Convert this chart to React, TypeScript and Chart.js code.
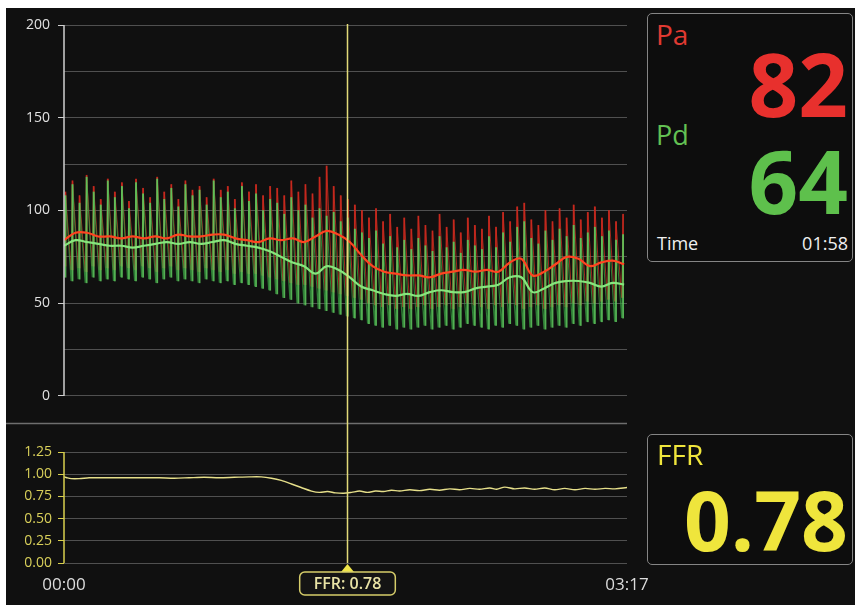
import React, { useEffect, useLayoutEffect, useRef } from 'react';
import { Chart, registerables } from 'chart.js';

Chart.register(...registerables);

// ---------- data ----------
const TIME_END = 197; // seconds (03:17)
const xTickValues = [0, 197];
const xTickLabels = ['00:00', '03:17'];

const pressureTicks = [0, 25, 50, 75, 100, 125, 150, 175, 200];
const pressureLabelTicks = [0, 50, 100, 150, 200];
const ffrTicks = [0, 0.25, 0.5, 0.75, 1.0, 1.25];

// beat-by-beat waveform extremes (one entry per displayed beat)
const beatPeriod = 2.47;
const pdSys = [
  108, 114, 104, 118, 110, 103, 116, 107, 113, 101,
  115, 109, 104, 117, 106, 112, 102, 114, 108, 111,
  103, 116, 107, 110, 101, 113, 105, 109, 100, 106,
  104, 98, 107, 100, 103, 96, 101, 97, 99, 94,
  96, 90, 88, 85, 89, 82, 86, 80, 84, 79,
  85, 81, 78, 86, 80, 83, 77, 84, 81, 79,
  86, 80, 88, 83, 91, 94, 85, 82, 89, 84,
  90, 86, 92, 85, 88, 91, 86, 89, 84, 87,
];
const pdDia = [
  64, 62, 63, 61, 64, 62, 63, 62, 64, 63,
  62, 64, 63, 61, 63, 64, 62, 63, 62, 61,
  63, 62, 61, 62, 60, 61, 60, 59, 58, 57,
  55, 53, 52, 50, 49, 48, 47, 46, 45, 44,
  43, 42, 41, 39, 38, 37, 38, 36, 37, 36,
  37, 38, 36, 37, 38, 36, 37, 39, 38, 37,
  36, 38, 37, 39, 38, 36, 37, 38, 36, 37,
  38, 37, 39, 38, 40, 39, 40, 41, 40, 42,
];
const paSys = [
  110, 116, 108, 119, 113, 106, 117, 110, 115, 105,
  117, 112, 107, 118, 110, 114, 106, 116, 111, 113,
  107, 117, 111, 113, 106, 115, 110, 114, 108, 113,
  112, 108, 116, 110, 114, 109, 118, 124, 113, 108,
  106, 103, 100, 96, 101, 94, 98, 91, 96, 90,
  97, 92, 89, 98, 91, 95, 88, 96, 92, 90,
  97, 91, 99, 94, 102, 104, 95, 92, 100, 94,
  101, 96, 103, 95, 99, 102, 96, 100, 94, 98,
];
const paDia = [
  70, 68, 69, 67, 70, 68, 69, 68, 70, 69,
  68, 70, 69, 67, 69, 70, 68, 69, 68, 67,
  69, 68, 67, 68, 66, 67, 66, 66, 65, 64,
  63, 62, 61, 60, 60, 59, 58, 57, 56, 55,
  54, 53, 52, 50, 49, 48, 49, 47, 48, 47,
  48, 49, 47, 48, 49, 47, 48, 50, 49, 48,
  47, 49, 48, 50, 49, 47, 48, 49, 47, 48,
  49, 48, 50, 49, 51, 50, 51, 52, 51, 53,
];

// mean pressures, sampled every 4 s
const meanStep = 4;
const paMean = [
  84, 88, 88, 86, 86, 85, 86, 85, 86, 85,
  87, 86, 86, 87, 87, 85, 84, 83, 85, 84,
  85, 83, 86, 89, 87, 83, 76, 70, 67, 66,
  65, 65, 64, 66, 67, 68, 67, 68, 67, 72,
  74, 65, 67, 71, 75, 74, 70, 72, 73, 71,
];
const pdMean = [
  81, 84, 83, 82, 81, 81, 80, 81, 82, 83,
  82, 83, 82, 83, 84, 82, 81, 80, 78, 75,
  72, 70, 66, 70, 68, 64, 59, 57, 55, 54,
  55, 54, 56, 57, 56, 56, 58, 59, 60, 64,
  64, 56, 58, 61, 62, 62, 61, 59, 61, 60,
];

// FFR trace
const ffrTimes = [
  0, 1, 2.5, 5.3, 8.8, 12.3, 17.5, 22.8, 28, 33.3, 38.6, 43.8, 49, 54.3, 59.6, 64.8, 69,
  72.6, 76, 79.6, 83, 86.6, 89.4, 92.2, 95, 97.8, 100.6, 103.4, 106.2, 109, 111.8, 114.6,
  117.4, 121, 124.4, 128, 131.4, 135, 138.4, 142, 145.4, 149, 151.4, 154.2, 157.7, 161.2,
  164.7, 168.2, 171.7, 175.2, 178.8, 182.3, 185.8, 189.3, 192.8, 197,
];
const ffrValues = [
  0.97, 0.96, 0.95, 0.95, 0.96, 0.96, 0.96, 0.96, 0.96, 0.96, 0.955, 0.96, 0.965, 0.96, 0.965, 0.97, 0.97,
  0.955, 0.93, 0.89, 0.85, 0.81, 0.795, 0.805, 0.79, 0.785, 0.795, 0.81, 0.795, 0.81, 0.805, 0.82,
  0.81, 0.825, 0.815, 0.83, 0.82, 0.835, 0.825, 0.84, 0.83, 0.845, 0.83, 0.855, 0.835, 0.845,
  0.83, 0.845, 0.825, 0.84, 0.825, 0.84, 0.83, 0.84, 0.835, 0.85,
];

const cursorTime = 99;
const cursorFFR = 0.78;

const paLabel = 'Pa';
const pdLabel = 'Pd';
const paValue = '82';
const pdValue = '64';
const timeLabel = 'Time';
const timeValue = '01:58';
const ffrLabel = 'FFR';
const ffrValue = '0.78';

// ---------- colours ----------
const BG = '#101010';
const GRID = '#505050';
const YELLOW = '#efe53c';
const RED = '#e8302d';
const GREEN = '#5ec04c';

function waveform(sys: number[], dia: number[]) {
  const pts: { x: number; y: number }[] = [];
  for (let i = 0; i < sys.length; i++) {
    const t = i * beatPeriod;
    pts.push({ x: t, y: dia[i] });
    pts.push({ x: t + 0.5, y: sys[i] });
  }
  return pts;
}

function beats(sys: number[], dia: number[]) {
  return sys.map((s, i) => ({ x: i * beatPeriod + 0.5, y: [dia[i], s] }));
}

function meanSeries(vals: number[]) {
  return vals.map((v, i) => ({ x: i * meanStep, y: v }));
}

const overlayPlugin = {
  id: 'ffrOverlay',
  afterDraw(chart: any) {
    const { ctx, chartArea, scales } = chart;
    const x = scales.x;
    const yP = scales.yP;
    const yF = scales.yF;
    ctx.save();
    // separator between panes
    ctx.strokeStyle = '#6e6e6e';
    ctx.lineWidth = 1.5;
    ctx.beginPath();
    ctx.moveTo(0, Math.round(yP.bottom) + 0.5);
    ctx.lineTo(chartArea.right, Math.round(yP.bottom) + 0.5);
    ctx.stroke();

    // pressure axis line
    const ax = chartArea.left;
    ctx.strokeStyle = '#cfcfcf';
    ctx.lineWidth = 1.5;
    ctx.beginPath();
    ctx.moveTo(ax, yP.getPixelForValue(pressureTicks[pressureTicks.length - 1]));
    ctx.lineTo(ax, yP.getPixelForValue(pressureTicks[0]));
    ctx.stroke();

    // FFR axis line
    ctx.strokeStyle = '#d8cf4e';
    ctx.beginPath();
    ctx.moveTo(ax, yF.getPixelForValue(ffrTicks[ffrTicks.length - 1]));
    ctx.lineTo(ax, yF.getPixelForValue(ffrTicks[0]));
    ctx.stroke();

    // cursor
    const xc = Math.round(x.getPixelForValue(cursorTime)) + 0.5;
    const yTop = yP.getPixelForValue(pressureTicks[pressureTicks.length - 1]) - 1;
    const yBot = yF.getPixelForValue(0);
    ctx.strokeStyle = '#e2da78';
    ctx.lineWidth = 1.5;
    ctx.beginPath();
    ctx.moveTo(xc, yTop);
    ctx.lineTo(xc, yBot);
    ctx.stroke();

    ctx.fillStyle = '#efe54a';
    ctx.beginPath();
    ctx.moveTo(xc, yBot + 1);
    ctx.lineTo(xc - 6.5, yBot + 9);
    ctx.lineTo(xc + 6.5, yBot + 9);
    ctx.closePath();
    ctx.fill();

    const label = 'FFR: ' + cursorFFR.toFixed(2);
    ctx.font = '600 16px "Open Sans"';
    const w = ctx.measureText(label).width + 28;
    const h = 23;
    const bx = xc - w / 2;
    const by = yBot + 9;
    ctx.beginPath();
    ctx.roundRect(bx, by, w, h, 5);
    ctx.fillStyle = '#141414';
    ctx.fill();
    ctx.strokeStyle = '#d6cd6a';
    ctx.lineWidth = 1.5;
    ctx.stroke();
    ctx.fillStyle = '#e9e3a6';
    ctx.textAlign = 'center';
    ctx.textBaseline = 'middle';
    ctx.fillText(label, xc, by + h / 2 + 1);
    ctx.restore();
  },
};

export default function App() {
  const ref = useRef<HTMLCanvasElement | null>(null);

  useLayoutEffect(() => {
    document.documentElement.style.margin = '0';
    document.body.style.margin = '0';
    document.body.style.overflow = 'hidden';
  }, []);

  useEffect(() => {
    if (!ref.current) return;
    const chart = new Chart(ref.current, {
      type: 'line',
      data: {
        datasets: [
          {
            label: 'Pa wave',
            data: waveform(paSys, paDia),
            yAxisID: 'yP',
            borderColor: 'rgba(205,50,35,0.75)',
            borderWidth: 1,
            pointRadius: 0,
            order: 7,
          },
          {
            type: 'bar',
            label: 'Pa beats',
            data: beats(paSys, paDia),
            yAxisID: 'yP',
            backgroundColor: 'rgba(205,40,30,0.8)',
            barThickness: 1.2,
            grouped: false,
            order: 6,
          },
          {
            label: 'Pd wave',
            data: waveform(pdSys, pdDia),
            yAxisID: 'yP',
            borderColor: 'rgba(55,160,65,0.75)',
            borderWidth: 1.1,
            pointRadius: 0,
            order: 5,
          },
          {
            type: 'bar',
            label: 'Pd beats',
            data: beats(pdSys, pdDia),
            yAxisID: 'yP',
            backgroundColor: 'rgba(95,205,95,0.85)',
            barThickness: 1.2,
            grouped: false,
            order: 4,
          },
          {
            label: 'Pa mean',
            data: meanSeries(paMean),
            yAxisID: 'yP',
            borderColor: '#ff4420',
            borderWidth: 2.2,
            pointRadius: 0,
            tension: 0.4,
            order: 3,
          },
          {
            label: 'Pd mean',
            data: meanSeries(pdMean),
            yAxisID: 'yP',
            borderColor: '#86e67c',
            borderWidth: 2.2,
            pointRadius: 0,
            tension: 0.4,
            order: 2,
          },
          {
            label: 'FFR',
            data: ffrTimes.map((t, i) => ({ x: t, y: ffrValues[i] })),
            yAxisID: 'yF',
            borderColor: '#e6df8a',
            borderWidth: 1.4,
            pointRadius: 0,
            tension: 0.3,
            order: 1,
          },
        ],
      },
      options: {
        animation: false,
        responsive: false,
        maintainAspectRatio: false,
        events: [],
        layout: { padding: { left: 0, top: 17, right: 228, bottom: 0 } },
        plugins: { legend: { display: false }, tooltip: { enabled: false } },
        scales: {
          x: {
            type: 'linear',
            min: 0,
            max: TIME_END,
            offset: false,
            grid: { display: false, drawTicks: false, offset: false },
            border: { display: false },
            afterBuildTicks: (scale: any) => {
              scale.ticks = xTickValues.map((v) => ({ value: v }));
            },
            afterFit: (scale: any) => {
              scale.height = 42;
            },
            ticks: {
              autoSkip: false,
              maxRotation: 0,
              padding: 12,
              color: '#dcdcdc',
              font: { family: '"Open Sans"', size: 17 },
              callback: (v: any) => {
                const i = xTickValues.indexOf(Number(v));
                return i >= 0 ? xTickLabels[i] : '';
              },
            },
          },
          yP: {
            type: 'linear',
            position: 'left',
            stack: 'panes',
            stackWeight: 398,
            weight: 2,
            min: -14.56,
            max: 200,
            afterBuildTicks: (scale: any) => {
              scale.ticks = pressureTicks.map((v) => ({ value: v }));
            },
            afterFit: (scale: any) => {
              scale.width = 58;
            },
            border: { display: false },
            grid: {
              color: GRID,
              lineWidth: 1,
              tickLength: 6,
              tickColor: (c: any) =>
                c.tick && pressureLabelTicks.includes(c.tick.value) ? '#cfcfcf' : 'rgba(0,0,0,0)',
            },
            ticks: {
              autoSkip: false,
              padding: 8,
              color: '#e2e2e2',
              font: { family: '"Open Sans"', size: 14 },
              callback: (v: any) => (pressureLabelTicks.includes(Number(v)) ? String(v) : ''),
            },
          },
          yF: {
            type: 'linear',
            position: 'left',
            stack: 'panes',
            stackWeight: 140,
            weight: 1,
            min: 0,
            max: 1.5766,
            afterBuildTicks: (scale: any) => {
              scale.ticks = ffrTicks.map((v) => ({ value: v }));
            },
            afterFit: (scale: any) => {
              scale.width = 58;
            },
            border: { display: false },
            grid: {
              color: GRID,
              lineWidth: 1,
              tickLength: 6,
              tickColor: '#d8cf4e',
            },
            ticks: {
              autoSkip: false,
              padding: 6,
              color: '#d9d05a',
              font: { family: '"Open Sans"', size: 14 },
              callback: (v: any) => Number(v).toFixed(2),
            },
          },
        },
      },
      plugins: [overlayPlugin],
    } as any);
    return () => chart.destroy();
  }, []);

  const panel: React.CSSProperties = {
    position: 'absolute',
    left: 641,
    width: 206,
    boxSizing: 'border-box',
    border: '1.5px solid #858585',
    borderRadius: 5,
    background: '#0d0d0d',
  };
  const txt = (extra: React.CSSProperties): React.CSSProperties => ({
    position: 'absolute',
    lineHeight: 1,
    whiteSpace: 'nowrap',
    fontFamily: '"Open Sans", sans-serif',
    ...extra,
  });

  return (
    <div style={{ position: 'relative', width: 855, height: 605, background: '#ffffff', overflow: 'hidden' }}>
      <style>{'html,body{margin:0;padding:0;overflow:hidden}'}</style>
      <div
        style={{
          position: 'absolute',
          left: 6,
          top: 8,
          width: 849,
          height: 597,
          background: BG,
          overflow: 'hidden',
        }}
      >
        <canvas
          ref={ref}
          width={849}
          height={597}
          style={{ position: 'absolute', left: 0, top: 0, width: 849, height: 597 }}
        />
        <div style={{ ...panel, top: 5, height: 249 }}>
          <span style={txt({ left: 8, top: 6, fontSize: 28, color: '#e03a32' })}>{paLabel}</span>
          <span style={txt({ right: 4, top: 26, fontSize: 87, fontWeight: 700, color: RED })}>{paValue}</span>
          <span style={txt({ left: 8, top: 107, fontSize: 27, color: '#63c153' })}>{pdLabel}</span>
          <span style={txt({ right: 4, top: 123, fontSize: 87, fontWeight: 700, color: GREEN })}>{pdValue}</span>
          <span style={txt({ left: 9, top: 220, fontSize: 18, color: '#f0f0f0' })}>{timeLabel}</span>
          <span style={txt({ right: 4, top: 220, fontSize: 18, color: '#f0f0f0' })}>{timeValue}</span>
        </div>
        <div style={{ ...panel, top: 426, height: 131 }}>
          <span style={txt({ left: 9, top: 5, fontSize: 28, color: YELLOW })}>{ffrLabel}</span>
          <span style={txt({ right: 4, top: 43, fontSize: 82, fontWeight: 700, color: YELLOW })}>{ffrValue}</span>
        </div>
      </div>
    </div>
  );
}
